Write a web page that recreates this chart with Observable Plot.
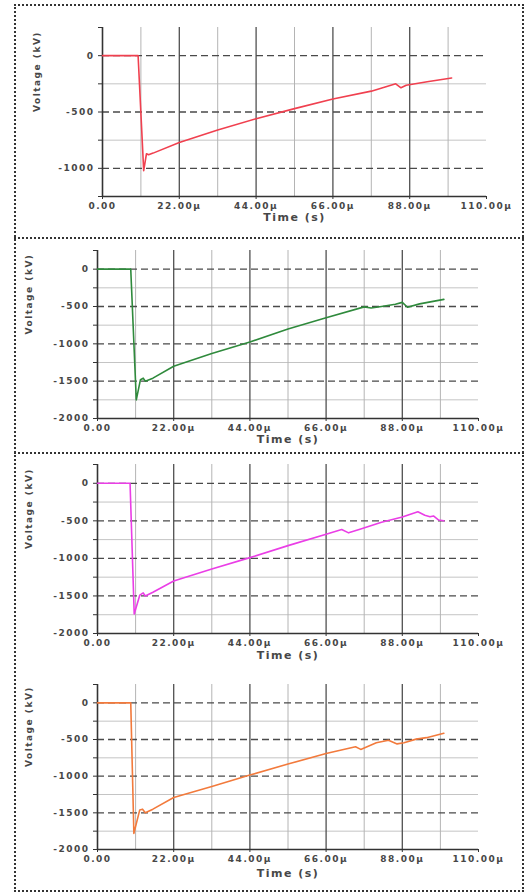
<!DOCTYPE html>
<html>
<head>
<meta charset="utf-8">
<script src="https://cdn.jsdelivr.net/npm/d3@7"></script>
<script src="https://cdn.jsdelivr.net/npm/@observablehq/plot@0.6"></script>
<style>
  body { margin: 0; background: #fff; }
  #wrap { position: relative; width: 526px; height: 895px; overflow: hidden; background: #fff; }
  .box { position: absolute; border: 2px dotted #333; box-sizing: border-box; }
  .div { position: absolute; border-top: 2px dotted #333; }
  .panel { position: absolute; left: 0; }
  .panel svg text { font-family: "DejaVu Sans", sans-serif; font-weight: bold; fill: #474747; letter-spacing: 1.5px; }
</style>
</head>
<body>
<div id="wrap">
  <div class="box" style="left:14px;top:4px;width:510px;height:888px;"></div>
  <div class="div" style="left:14px;top:237px;width:510px;"></div>
  <div class="div" style="left:14px;top:452px;width:510px;"></div>
</div>
<script>
// ---- data (time in µs, voltage in kV) ----
const timeRed   = [0, 10.2, 11.8, 12.6, 13.2, 14.5, 22, 33, 44, 55, 66, 77, 84, 85.5, 87, 93, 100];
const voltRed   = [0, 0, -1020, -870, -880, -865, -770, -660, -560, -470, -385, -315, -250, -285, -262, -232, -198];

const timeGreen = [0, 9.6, 11.2, 12.4, 13.2, 13.8, 16, 22, 33, 44, 55, 66, 77, 79, 82, 86, 88, 89.5, 93, 100];
const voltGreen = [0, 0, -1750, -1480, -1460, -1500, -1460, -1300, -1130, -975, -800, -650, -505, -520, -500, -470, -445, -510, -465, -405];

const timeMagenta = [0, 9.4, 10.6, 12.2, 13.2, 13.8, 16, 22, 33, 44, 55, 66, 70.5, 72.5, 76, 82, 88, 92.5, 94.5, 96, 97, 98.5, 100];
const voltMagenta = [0, 0, -1740, -1490, -1460, -1500, -1450, -1300, -1140, -990, -830, -680, -615, -660, -610, -520, -450, -380, -425, -445, -435, -490, -500];

const timeOrange = [0, 9.6, 10.5, 12.2, 13, 13.8, 16, 22, 33, 44, 55, 66, 74.5, 76, 80.5, 84, 86.5, 88.5, 92, 95, 100];
const voltOrange = [0, 0, -1780, -1460, -1450, -1500, -1450, -1290, -1140, -985, -835, -690, -600, -635, -545, -510, -560, -545, -495, -475, -415];

// ---- axes / ticks ----
const xTicks = [0, 22, 44, 66, 88, 110];
const xTickLabels = ["0.00", "22.00µ", "44.00µ", "66.00µ", "88.00µ", "110.00µ"];
const xGridMajor = [22, 44, 66, 88];
const xGridMinor = [11, 33, 55, 77, 99];

const yTicksSmall = [250, 0, -250, -500, -750, -1000, -1250];
const yLabelsSmall = [0, -500, -1000];
const yMajorSmall = [0, -500, -1000];
const yMinorSmall = [-250, -750];

const yTicksLarge = [250, 0, -250, -500, -750, -1000, -1250, -1500, -1750, -2000];
const yLabelsLarge = [0, -500, -1000, -1500, -2000];
const yMajorLarge = [0, -500, -1000, -1500];
const yMinorLarge = [-250, -750, -1250, -1750];

const xTitle = "Time (s)";
const yTitle = "Voltage (kV)";

function makePanel(o) {
  const data = o.t.map((t, i) => ({t, v: o.v[i]}));
  const xFmt = new Map(xTicks.map((d, i) => [d, xTickLabels[i]]));
  const yLab = new Set(o.yLabels);
  return Plot.plot({
    width: 526,
    height: o.height,
    marginTop: o.mt,
    marginBottom: o.mb,
    marginLeft: o.ml,
    marginRight: o.mr,
    x: {domain: [0, 110], label: null},
    y: {domain: [o.yMin, 250], label: null},
    style: {background: "transparent", overflow: "visible"},
    marks: [
      Plot.ruleY(o.yMinor, {stroke: "#c4c4c4", strokeWidth: 1}),
      Plot.ruleX(xGridMinor, {stroke: "#b4b4b4", strokeWidth: 1}),
      Plot.ruleX(xGridMajor, {stroke: "#505050", strokeWidth: 1.3}),
      Plot.ruleY(o.yMajor, {stroke: "#4a4a4a", strokeWidth: 1.3, strokeDasharray: "7,4"}),
      Plot.ruleX([0], {stroke: "#333", strokeWidth: 1.6}),
      Plot.ruleY([o.yMin], {stroke: "#333", strokeWidth: 1.6}),
      Plot.axisY(o.yTicks, {tickSize: 4, tickPadding: 4, fontSize: 9, stroke: "#333",
        tickFormat: d => (yLab.has(d) ? String(d) : ""), label: null}),
      Plot.axisX(xTicks, {tickSize: 3, tickPadding: 3, fontSize: 9, stroke: "#333",
        tickFormat: d => xFmt.get(d), label: null}),
      Plot.text([xTitle], {text: d => d, frameAnchor: "bottom", dy: o.titleDy, fontSize: 11}),
      Plot.text([yTitle], {text: d => d, frameAnchor: "left", rotate: -90, dx: o.ylabDx, fontSize: 9}),
      Plot.line(data, {x: "t", y: "v", stroke: o.color, strokeWidth: 1.6})
    ]
  });
}

const panels = [
  {t: timeRed, v: voltRed, color: "#f0404f", yMin: -1250, yTicks: yTicksSmall, yLabels: yLabelsSmall,
   yMajor: yMajorSmall, yMinor: yMinorSmall, top: 0, height: 236, mt: 27, mb: 40, ml: 102, mr: 40, titleDy: 24, ylabDx: -65},
  {t: timeGreen, v: voltGreen, color: "#2f8a3c", yMin: -2000, yTicks: yTicksLarge, yLabels: yLabelsLarge,
   yMajor: yMajorLarge, yMinor: yMinorLarge, top: 238, height: 215, mt: 12, mb: 35, ml: 97, mr: 48, titleDy: 24, ylabDx: -68},
  {t: timeMagenta, v: voltMagenta, color: "#ea3ee6", yMin: -2000, yTicks: yTicksLarge, yLabels: yLabelsLarge,
   yMajor: yMajorLarge, yMinor: yMinorLarge, top: 454, height: 211, mt: 10, mb: 32, ml: 97, mr: 48, titleDy: 25, ylabDx: -68},
  {t: timeOrange, v: voltOrange, color: "#f27a3c", yMin: -2000, yTicks: yTicksLarge, yLabels: yLabelsLarge,
   yMajor: yMajorLarge, yMinor: yMinorLarge, top: 665, height: 225, mt: 19, mb: 41, ml: 97, mr: 48, titleDy: 27, ylabDx: -68}
];

const wrap = document.getElementById("wrap");
for (const p of panels) {
  const div = document.createElement("div");
  div.className = "panel";
  div.style.top = p.top + "px";
  div.appendChild(makePanel(p));
  wrap.appendChild(div);
}
</script>
</body>
</html>
